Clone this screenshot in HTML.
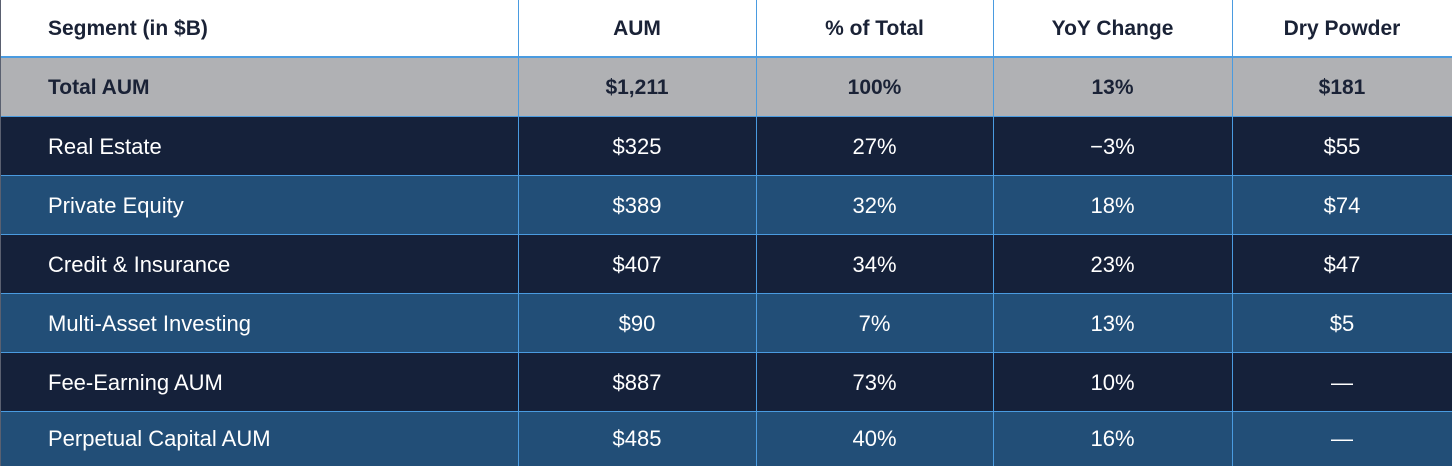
<!DOCTYPE html>
<html><head><meta charset="utf-8"><style>
body{margin:0;width:1452px;height:466px;overflow:hidden;background:#fff;font-family:"Liberation Sans",Arial,sans-serif;}
.t{position:absolute;left:0;top:0;width:1452px;height:466px;}
.r{position:absolute;left:0;width:1452px;}
.c{position:absolute;top:0;height:100%;display:flex;align-items:center;justify-content:center;box-sizing:border-box;}
.c.l{justify-content:flex-start;padding-left:48px;}
.vl{position:absolute;top:0;width:1px;height:466px;background:#4a9be0;}
.hl{position:absolute;left:0;width:1452px;height:1px;background:#4a9be0;}
</style></head><body>
<div class="t" id="tbl"></div>
<script>
const headers=["Segment (in $B)","AUM","% of Total","YoY Change","Dry Powder"];
const rows=[
["Total AUM","$1,211","100%","13%","$181"],
["Real Estate","$325","27%","−3%","$55"],
["Private Equity","$389","32%","18%","$74"],
["Credit & Insurance","$407","34%","23%","$47"],
["Multi-Asset Investing","$90","7%","13%","$5"],
["Fee-Earning AUM","$887","73%","10%","—"],
["Perpetual Capital AUM","$485","40%","16%","—"]];
const colX=[0,518,756,993,1232,1452];
const t=document.getElementById('tbl');
function mkRow(vals,top,h,bg,color,bold,fs,name){
 const r=document.createElement('div');r.className='r';
 
 
 r.style.top=top+'px';r.style.height=h+'px';r.style.background=bg;
 vals.forEach((v,i)=>{
  const c=document.createElement('div');c.className='c'+(i==0?' l':'');
  
  
  c.style.left=colX[i]+'px';c.style.width=(colX[i+1]-colX[i])+'px';
  c.style.color=color;c.style.fontWeight=bold?'bold':'normal';c.style.fontSize=fs+'px';
  c.textContent=v;r.appendChild(c);
 });
 t.appendChild(r);
}
mkRow(headers,0,57,'#ffffff','#1a2236',true,21,'header-row');
const tops=[58,117,176,235,294,353,412];
rows.forEach((row,i)=>{
 const bg=i==0?'#b0b1b4':(i%2==1?'#15213a':'#224e77');
 const h=(i+1<tops.length?tops[i+1]:466)-tops[i];
 mkRow(row,tops[i],h,bg,i==0?'#1a2236':'#ffffff',i==0,i==0?21:22,'row-'+(i+1));
});
const hl=document.createElement('div');hl.className='hl';hl.style.top='56px';hl.style.height='2px';


t.appendChild(hl);
tops.slice(1).forEach(y=>{const d=document.createElement('div');d.className='hl';d.style.top=(y-1)+'px';


t.appendChild(d);});
colX.slice(1,5).forEach(x=>{const d=document.createElement('div');d.className='vl';d.style.left=x+'px';


t.appendChild(d);});
const lb=document.createElement('div');lb.className='vl';lb.style.left='0px';lb.style.background='#5a6070';


t.appendChild(lb);
</script>
</body></html>
